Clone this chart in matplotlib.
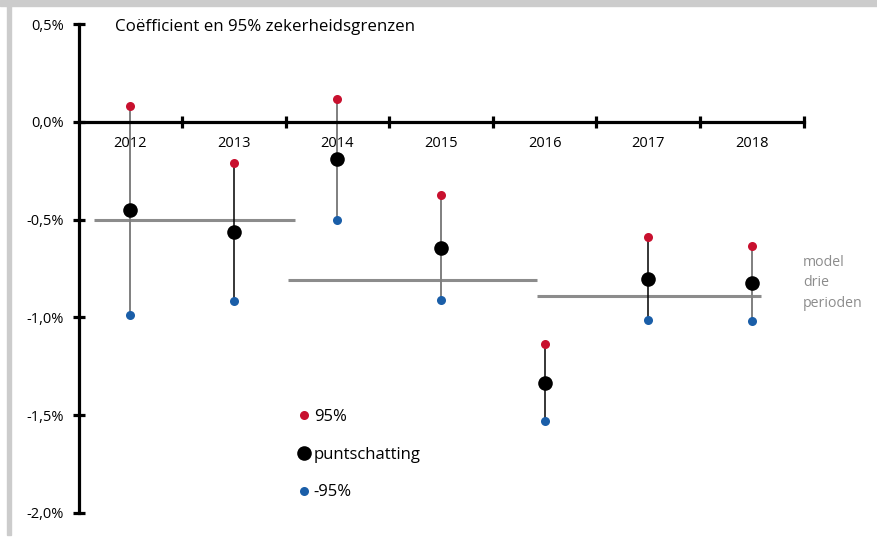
import matplotlib.pyplot as plt
from matplotlib.patches import Rectangle

plt.rcParams['font.family'] = ['Open Sans', 'DejaVu Sans']

# data (in %)
years = ['2012', '2013', '2014', '2015', '2016', '2017', '2018']
upper95 = [0.08, -0.21, 0.118, -0.375, -1.134, -0.589, -0.633]
estimate = [-0.452, -0.563, -0.191, -0.643, -1.334, -0.802, -0.824]
lower95 = [-0.986, -0.918, -0.502, -0.912, -1.532, -1.013, -1.020]
stem_colors = ['#7f7f7f', '#000000', '#7f7f7f', '#7f7f7f', '#000000', '#000000', '#7f7f7f']

# model with three periods: (start, end, value)
model_start = [-0.35, 1.52, 3.93]
model_end = [1.59, 3.93, 6.09]
model_value = [-0.50, -0.81, -0.89]

W, H = 877, 538
fig = plt.figure(figsize=(W / 100, H / 100), dpi=100)

# grey frame at top and left
fig.patches.append(Rectangle((0, 1 - 6 / H), 1, 6 / H, transform=fig.transFigure,
                             color='#cccccc', zorder=0))
fig.patches.append(Rectangle((7 / W, 3 / H), 4 / W, 1 - 3 / H, transform=fig.transFigure,
                             color='#cccccc', zorder=0))

ax = fig.add_axes([78.5 / W, (H - 513) / H, 725 / W, 489 / H])
ax.set_xlim(-0.5, 6.5)
ax.set_ylim(-2.0, 0.5)
ax.patch.set_alpha(0)

x = list(range(len(years)))

for s, e, v in zip(model_start, model_end, model_value):
    ax.plot([s, e], [v, v], color='#8c8c8c', lw=2.2, solid_capstyle='butt', zorder=2)

for i in x:
    lw = 1.4 if stem_colors[i] != '#000000' else 1.1
    ax.plot([i, i], [upper95[i], lower95[i]], color=stem_colors[i], lw=lw, zorder=3)

ax.plot(x, upper95, 'o', color='#c8102e', ms=6.5, mew=0, ls='none', label='95%', zorder=4, clip_on=False)
ax.plot(x, estimate, 'o', color='#000000', ms=10.5, mew=0, ls='none', label='puntschatting', zorder=4)
ax.plot(x, lower95, 'o', color='#1a5ea8', ms=6.5, mew=0, ls='none', label='-95%', zorder=4)

# axes styling
for side in ['top', 'right']:
    ax.spines[side].set_visible(False)
ax.spines['bottom'].set_position(('data', 0))
ax.spines['bottom'].set_linewidth(2.3)
ax.spines['left'].set_linewidth(2.3)
ax.spines['left'].set_zorder(5)
ax.spines['bottom'].set_zorder(5)

ax.set_yticks([0.5, 0.0, -0.5, -1.0, -1.5, -2.0])
ax.set_yticklabels(['0,5%', '0,0%', '-0,5%', '-1,0%', '-1,5%', '-2,0%'])
ax.tick_params(axis='y', direction='inout', length=9, width=2.3, pad=6, labelsize=10.5)

ax.set_xticks([0.5, 1.5, 2.5, 3.5, 4.5, 5.5, 6.5])
ax.set_xticklabels([])
ax.tick_params(axis='x', which='major', direction='inout', length=9, width=2.3)
ax.set_xticks(x, minor=True)
ax.set_xticklabels(years, minor=True)
ax.tick_params(axis='x', which='minor', length=0, pad=10.5, labelsize=10.5)

fig.text(115 / W, 1 - 27 / H, 'Coëfficient en 95% zekerheidsgrenzen', fontsize=12.2,
         va='center', ha='left')

fig.text(803 / W, 1 - 255 / H, 'model\ndrie\nperioden', fontsize=10.2, color='#8c8c8c',
         va='top', ha='left', linespacing=1.5, transform=fig.transFigure)

leg = ax.legend(loc='upper left', bbox_to_anchor=(300 / W, 1 - 409 / H),
                bbox_transform=fig.transFigure, frameon=False, fontsize=12,
                handlelength=0.5, handletextpad=0.33, labelspacing=1.3,
                borderpad=0, borderaxespad=0, numpoints=1)

fig.savefig('out.png', dpi=100)
